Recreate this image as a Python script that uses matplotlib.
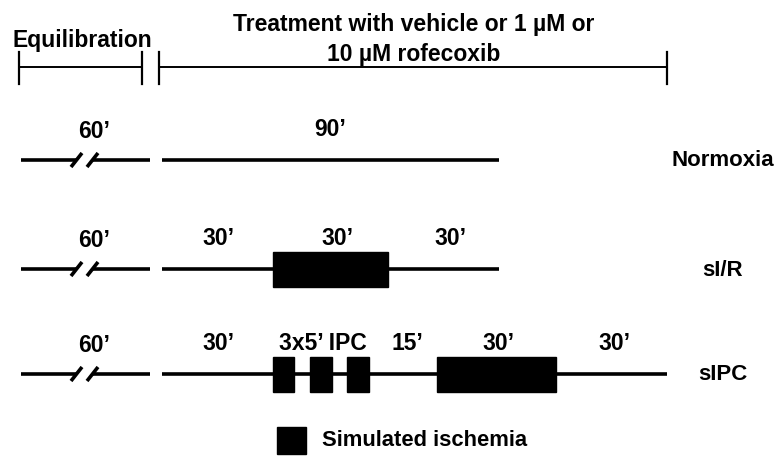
import matplotlib.pyplot as plt
from matplotlib.patches import Rectangle

plt.rcParams['font.family'] = ['Liberation Sans', 'DejaVu Sans']

# protocol data (minutes after start of treatment)
groups = ['Normoxia', 'sI/R', 'sIPC']
equil_min = 60
protocol_end = [90, 90, 135]
ischemia = [
    [],
    [(30, 60)],
    [(30, 35), (40, 45), (50, 55), (74, 105)],
]
# (label position in minutes, text)
seg_labels = [
    [(45, "90\u2019")],
    [(15, "30\u2019"), (47, "30\u2019"), (77, "30\u2019")],
    [(15, "30\u2019"), (43, "3x5\u2019 IPC"), (65.5, "15\u2019"),
     (90, "30\u2019"), (121, "30\u2019")],
]
equil_title = 'Equilibration'
treat_title = 'Treatment with vehicle or 1 \u00b5M or\n10 \u00b5M rofecoxib'
legend_label = 'Simulated ischemia'

# layout (pixel-like units)
W, H = 778, 457
row_y = [160, 269, 374]
x_equil0, x_equil1 = 21, 150
x_treat0 = 162
px_per_min = 3.74
box_half = 17.5
lw = 2.6
fs = 16.5


def tx(t):
    return x_treat0 + t * px_per_min


fig = plt.figure(figsize=(W / 100, H / 100), dpi=100)
ax = fig.add_axes([0, 0, 1, 1])
ax.set_xlim(0, W)
ax.set_ylim(H, 0)
ax.axis('off')

# brackets on top
br_y, br_h = 67, 15
for x0, x1 in [(19, 142), (159, tx(protocol_end[2]))]:
    ax.plot([x0, x1], [br_y, br_y], color='black', lw=1.4)
    for xx in (x0, x1):
        ax.plot([xx, xx], [br_y - br_h, br_y + br_h + 2], color='black', lw=1.6)
ax.text(82, 47, equil_title, ha='center', va='baseline', fontsize=fs,
        fontweight='bold')
ax.text(414, 61, treat_title, ha='center', va='baseline', fontsize=fs,
        fontweight='bold', linespacing=1.4)

for i, g in enumerate(groups):
    y = row_y[i]
    # equilibration line with break marks
    ax.plot([x_equil0, 77], [y, y], color='black', lw=lw, solid_capstyle='butt')
    ax.plot([92, x_equil1], [y, y], color='black', lw=lw, solid_capstyle='butt')
    for sx in (76.5, 92.5):
        ax.plot([sx - 5.5, sx + 5.5], [y + 7, y - 7], color='black', lw=2.6,
                solid_capstyle='butt')
    ax.text((x_equil0 + x_equil1) / 2 + 9, y - 22, "%d\u2019" % equil_min,
            ha='center', va='baseline', fontsize=fs, fontweight='bold')

    # treatment line
    ax.plot([tx(0), tx(protocol_end[i])], [y, y], color='black', lw=lw,
            solid_capstyle='butt')
    for a, b in ischemia[i]:
        ax.add_patch(Rectangle((tx(a) - 1.5, y - box_half), tx(b) - tx(a) + 3,
                               2 * box_half, color='black'))
    for t, lab in seg_labels[i]:
        ax.text(tx(t), y - 24, lab, ha='center', va='baseline',
                fontsize=fs, fontweight='bold')

    ax.text(723, y + 1, g, ha='center', va='center', fontsize=16,
            fontweight='bold')

# legend
ax.add_patch(Rectangle((277, 427), 29, 27, color='black'))
ax.text(322, 441, legend_label, ha='left', va='center', fontsize=15.8,
        fontweight='bold')

fig.savefig('out.png', dpi=100)
